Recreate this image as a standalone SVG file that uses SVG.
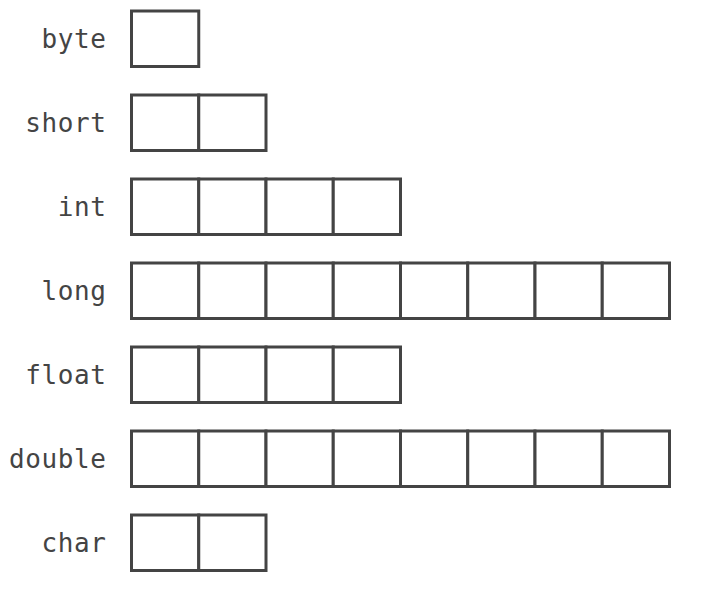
<svg xmlns="http://www.w3.org/2000/svg" width="702" height="608" viewBox="0 0 702 608">
<style>
.cell{fill:#fff;stroke:#444;stroke-width:3}
.lbl{font-family:"DejaVu Sans Mono","Liberation Mono",monospace;font-size:26px;fill:#444;text-anchor:end;letter-spacing:0.6px}
</style>
<defs>
<rect id="c" class="cell" width="67.25" height="55.5"/>
</defs>
<rect width="702" height="608" fill="#fff"/>
<g id="byte">
<text class="lbl" x="106.5" y="48">byte</text>
<use href="#c" x="131.5" y="11"/>
</g>
<g id="short">
<text class="lbl" x="106.5" y="132">short</text>
<use href="#c" x="131.5" y="95"/><use href="#c" x="198.75" y="95"/>
</g>
<g id="int">
<text class="lbl" x="106.5" y="216">int</text>
<use href="#c" x="131.5" y="179"/><use href="#c" x="198.75" y="179"/><use href="#c" x="266" y="179"/><use href="#c" x="333.25" y="179"/>
</g>
<g id="long">
<text class="lbl" x="106.5" y="300">long</text>
<use href="#c" x="131.5" y="263"/><use href="#c" x="198.75" y="263"/><use href="#c" x="266" y="263"/><use href="#c" x="333.25" y="263"/><use href="#c" x="400.5" y="263"/><use href="#c" x="467.75" y="263"/><use href="#c" x="535" y="263"/><use href="#c" x="602.25" y="263"/>
</g>
<g id="float">
<text class="lbl" x="106.5" y="384">float</text>
<use href="#c" x="131.5" y="347"/><use href="#c" x="198.75" y="347"/><use href="#c" x="266" y="347"/><use href="#c" x="333.25" y="347"/>
</g>
<g id="double">
<text class="lbl" x="106.5" y="468">double</text>
<use href="#c" x="131.5" y="431"/><use href="#c" x="198.75" y="431"/><use href="#c" x="266" y="431"/><use href="#c" x="333.25" y="431"/><use href="#c" x="400.5" y="431"/><use href="#c" x="467.75" y="431"/><use href="#c" x="535" y="431"/><use href="#c" x="602.25" y="431"/>
</g>
<g id="char">
<text class="lbl" x="106.5" y="552">char</text>
<use href="#c" x="131.5" y="515"/><use href="#c" x="198.75" y="515"/>
</g>
<g id="connectors"/>
</svg>
